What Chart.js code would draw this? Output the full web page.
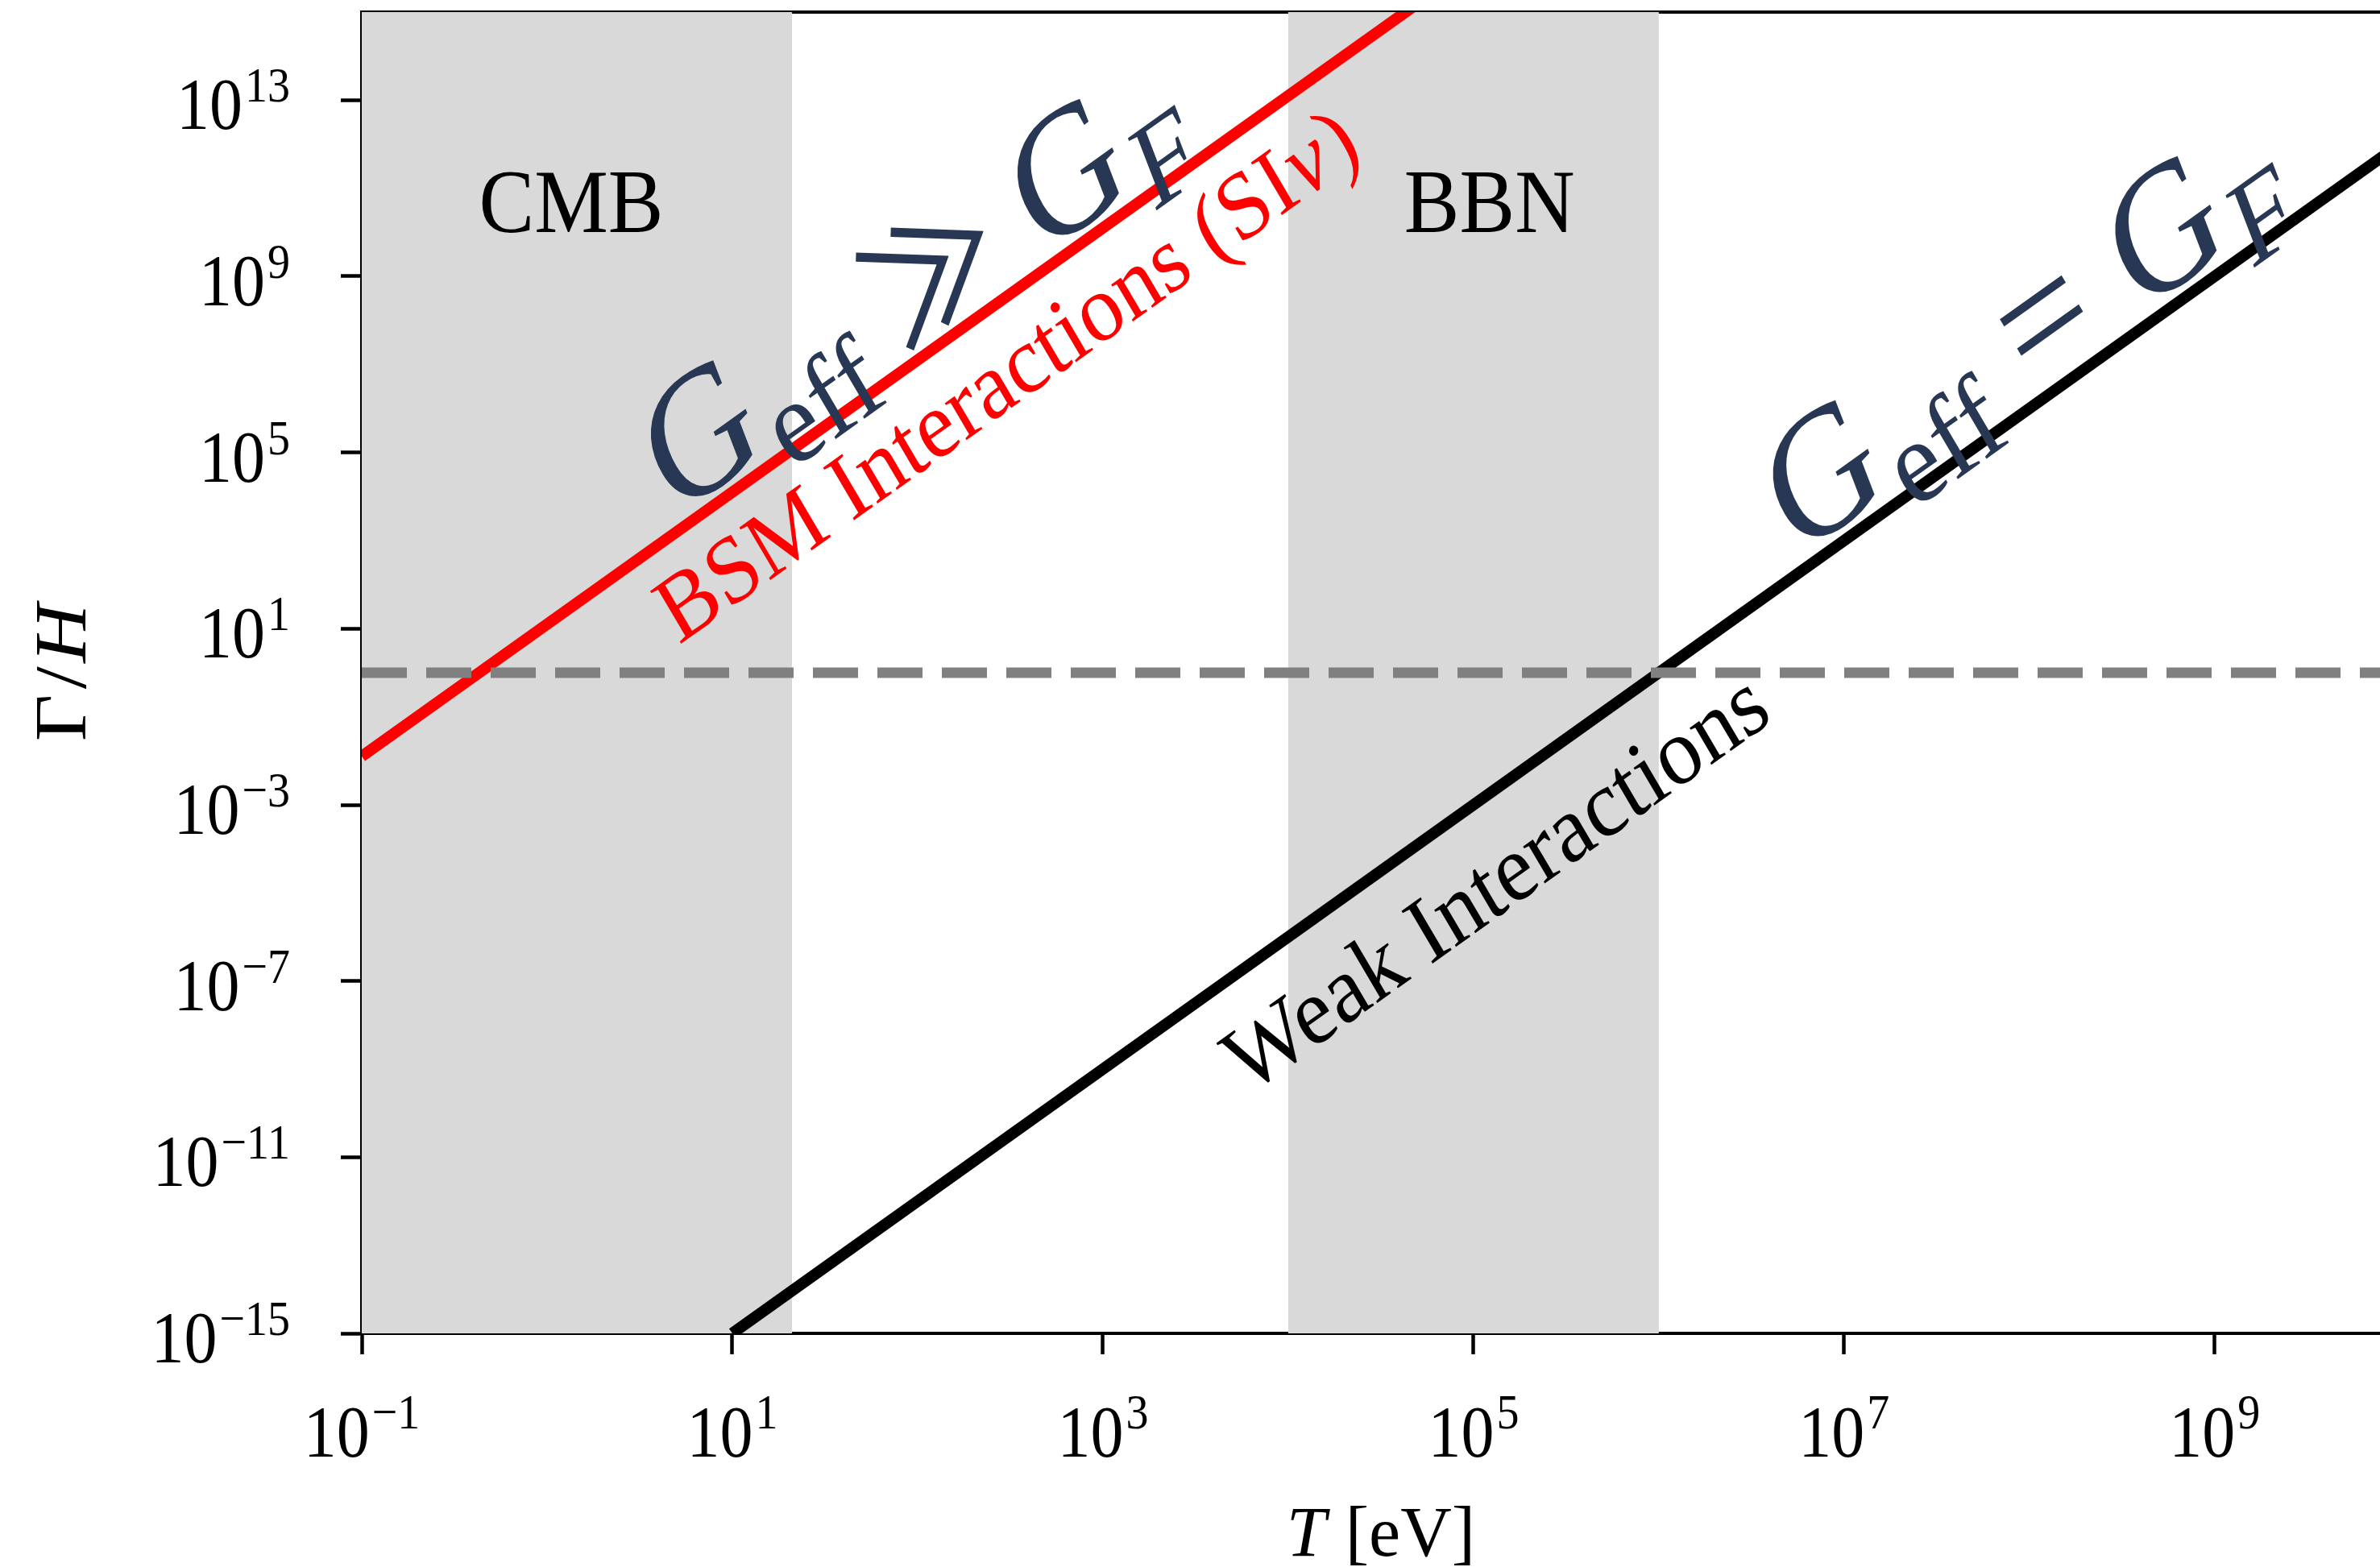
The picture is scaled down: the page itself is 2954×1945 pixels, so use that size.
<!DOCTYPE html>
<html>
<head>
<meta charset="utf-8">
<title>Interaction rate vs Hubble rate</title>
<script src="https://cdn.jsdelivr.net/npm/chart.js@4/dist/chart.umd.min.js"></script>
<style>
  html, body { margin: 0; padding: 0; background: #ffffff; overflow: hidden; }
  #wrap { width: 2954px; height: 1945px; }
</style>
</head>
<body>
<div id="wrap"><canvas id="c" width="2954" height="1945"></canvas></div>
<script>
// ---- axis ranges and ticks ----
const xMin = 0.1, xMax = 7.8e9;          // T [eV]
const yMin = 1e-15, yMax = 1e15;         // Gamma / H
const xTickValues = [1e-1, 1e1, 1e3, 1e5, 1e7, 1e9];
const yTickValues = [1e-15, 1e-11, 1e-7, 1e-3, 1e1, 1e5, 1e9, 1e13];

// ---- curves (straight lines in log-log, end points) ----
const weakT = [10, 1e10];
const weakRate = [1e-15, 1e12];
const bsmT = [0.1, 1e5];
const bsmRate = [1.26e-2, 1.26e16];
const equalityT = [0.1, 1e10];
const equalityRate = [1, 1];

// ---- shaded epochs ----
const bandNames = ['CMB', 'BBN'];
const bandLow = [0.1, 1e4];
const bandHigh = [21, 1e6];
const bandLabelT = [1.35, 1.22e5];
const bandLabelRate = [1e10, 1e10];

// ---- labels set along the curves (centre in data units) ----
const noteNames = ['strong', 'bsm', 'fermi', 'weak'];
const noteT = [90, 300, 8.8e7, 1.31e5];
const noteRate = [7e8, 6.0e6, 5.5e7, 1.85e-5];

const FONT = "'Liberation Serif', 'DejaVu Serif', serif";
const NAVY = '#283854';
const TEXT_SY = 1.1;

function pts(xs, ys) { return xs.map((x, i) => ({ x: x, y: ys[i] })); }

function fontOf(r) {
  return (r.italic ? 'italic ' : '') + r.size + 'px ' + (r.family || FONT);
}

// Draws a row of text runs centred on (cx, cy), rotated by `angle`
// (radians, counter-clockwise) and stretched vertically by sy.
function drawRuns(ctx, runs, cx, cy, angle, sy, color) {
  ctx.save();
  ctx.translate(cx, cy);
  ctx.scale(1, sy);
  ctx.rotate(-Math.atan2(Math.sin(angle), sy * Math.cos(angle)));
  ctx.fillStyle = color;
  ctx.textBaseline = 'alphabetic';
  ctx.textAlign = 'left';
  let total = 0;
  const widths = runs.map(r => {
    ctx.font = fontOf(r);
    const w = ctx.measureText(r.text).width;
    total += (r.gap || 0) + w;
    return w;
  });
  let x = -total / 2;
  const base = runs[0].size * 0.33;
  runs.forEach((r, i) => {
    x += r.gap || 0;
    ctx.font = fontOf(r);
    ctx.fillText(r.text, x, base + (r.shift || 0));
    x += widths[i];
  });
  ctx.restore();
}

function drawStretched(ctx, text, x, y, sy) {
  ctx.save();
  ctx.translate(x, y);
  ctx.scale(1, sy);
  ctx.fillText(text, 0, 0);
  ctx.restore();
}

function expText(v) {
  const e = Math.round(Math.log10(v));
  return (e < 0 ? '\u2212' : '') + Math.abs(e);
}

const bigG = 196, subG = 134;
const symFont = "'Noto Sans CJK JP', 'DejaVu Sans', sans-serif";
const noteRuns = {
  strong: [
    { text: 'G', size: bigG, italic: true },
    { text: 'eff', size: subG, shift: 0.17 * bigG, gap: 6 },
    { text: '\u226B', size: 170, family: symFont, gap: 0.2 * bigG },
    { text: 'G', size: bigG, italic: true, gap: 0.2 * bigG },
    { text: 'F', size: subG, italic: true, shift: 0.17 * bigG, gap: 4 }
  ],
  bsm: [
    { text: 'BSM Interactions (SI', size: 108 },
    { text: '\u03BD', size: 108, italic: true, gap: 2 },
    { text: ')', size: 108, gap: 4 }
  ],
  fermi: [
    { text: 'G', size: bigG, italic: true },
    { text: 'eff', size: subG, shift: 0.17 * bigG, gap: 6 },
    { text: '=', size: bigG, gap: 0.26 * bigG },
    { text: 'G', size: bigG, italic: true, gap: 0.26 * bigG },
    { text: 'F', size: subG, italic: true, shift: 0.17 * bigG, gap: 4 }
  ],
  weak: [
    { text: 'Weak Interactions', size: 108 }
  ]
};
const noteColor = { strong: NAVY, bsm: '#ff0000', fermi: NAVY, weak: '#000000' };
const noteLine = { strong: [bsmT, bsmRate], bsm: [bsmT, bsmRate], fermi: [weakT, weakRate], weak: [weakT, weakRate] };

// Shaded temperature windows, painted beneath the curves.
const bandPlugin = {
  id: 'epochBands',
  beforeDatasetsDraw(chart) {
    const { ctx, chartArea: a, scales: { x } } = chart;
    ctx.save();
    ctx.fillStyle = '#d9d9d9';
    bandLow.forEach((lo, i) => {
      const x0 = Math.max(a.left, x.getPixelForValue(lo));
      const x1 = Math.min(a.right, x.getPixelForValue(bandHigh[i]));
      ctx.fillRect(x0, a.top, x1 - x0, a.bottom - a.top);
    });
    ctx.restore();
  }
};

// Tick labels with exponents, axis titles and the text annotations.
const textPlugin = {
  id: 'texts',
  afterDraw(chart) {
    const { ctx, chartArea: a, scales: { x, y } } = chart;
    ctx.save();
    ctx.fillStyle = '#000';
    ctx.textBaseline = 'alphabetic';
    ctx.textAlign = 'left';
    const mainSize = 82, supSize = 56;

    // x tick labels
    x.ticks.forEach(t => {
      const px = x.getPixelForValue(t.value);
      ctx.font = mainSize + 'px ' + FONT;
      const w1 = ctx.measureText('10').width;
      const ex = expText(t.value);
      ctx.font = supSize + 'px ' + FONT;
      const w2 = ctx.measureText(ex).width;
      const left = px - (w1 + 3 + w2) / 2;
      const base = a.bottom + 153;
      ctx.font = mainSize + 'px ' + FONT;
      drawStretched(ctx, '10', left, base, TEXT_SY);
      ctx.font = supSize + 'px ' + FONT;
      drawStretched(ctx, ex, left + w1 + 3, base - 35, TEXT_SY);
    });

    // y tick labels
    y.ticks.forEach(t => {
      const py = y.getPixelForValue(t.value);
      ctx.font = mainSize + 'px ' + FONT;
      const w1 = ctx.measureText('10').width;
      const ex = expText(t.value);
      ctx.font = supSize + 'px ' + FONT;
      const w2 = ctx.measureText(ex).width;
      const left = a.left - 89 - (w1 + 3 + w2);
      const base = py + 36;
      ctx.font = mainSize + 'px ' + FONT;
      drawStretched(ctx, '10', left, base, TEXT_SY);
      ctx.font = supSize + 'px ' + FONT;
      drawStretched(ctx, ex, left + w1 + 3, base - 34, TEXT_SY);
    });

    // axis titles
    drawRuns(ctx, [
      { text: 'T', size: 88, italic: true },
      { text: '[eV]', size: 88, gap: 24 }
    ], x.getPixelForValue(Math.pow(10, 4.5)), a.bottom + 247, 0, 1.0, '#000');
    drawRuns(ctx, [
      { text: '\u0393', size: 92 },
      { text: '/', size: 92, gap: 6 },
      { text: 'H', size: 92, italic: true, gap: 4 }
    ], 76, (a.top + a.bottom) / 2, Math.PI / 2, TEXT_SY, '#000');

    // epoch names
    bandNames.forEach((name, i) => {
      ctx.font = '103px ' + FONT;
      ctx.fillStyle = '#000';
      const w = ctx.measureText(name).width;
      drawStretched(ctx, name, x.getPixelForValue(bandLabelT[i]) - w / 2, y.getPixelForValue(bandLabelRate[i]), TEXT_SY);
    });

    // labels running along the curves
    noteNames.forEach((n, i) => {
      const [lt, lr] = noteLine[n];
      const x0 = x.getPixelForValue(lt[0]), y0 = y.getPixelForValue(lr[0]);
      const x1 = x.getPixelForValue(lt[1]), y1 = y.getPixelForValue(lr[1]);
      const ang = Math.atan2(y0 - y1, x1 - x0);
      drawRuns(ctx, noteRuns[n], x.getPixelForValue(noteT[i]), y.getPixelForValue(noteRate[i]), ang, TEXT_SY, noteColor[n]);
    });
    ctx.restore();
  }
};

const tickGrid = { display: true, drawOnChartArea: false, drawTicks: true, tickLength: 26, tickWidth: 4.5, tickColor: '#000000' };
const axisBorder = { display: true, color: '#000000', width: 4 };

new Chart(document.getElementById('c'), {
  type: 'scatter',
  data: {
    datasets: [
      { label: '\u0393/H = 1', data: pts(equalityT, equalityRate), showLine: true, borderColor: '#808080',
        borderWidth: 13, borderDash: [56, 24], pointRadius: 0, order: 0, clip: 0 },
      { label: 'BSM interactions', data: pts(bsmT, bsmRate), showLine: true, borderColor: '#ff0000',
        borderWidth: 14, pointRadius: 0, order: 1, clip: 0 },
      { label: 'Weak interactions', data: pts(weakT, weakRate), showLine: true, borderColor: '#000000',
        borderWidth: 14, pointRadius: 0, order: 2, clip: 0 }
    ]
  },
  options: {
    responsive: false,
    animation: false,
    devicePixelRatio: 1,
    events: [],
    layout: { padding: { top: 15, right: 0, bottom: 0, left: 0 } },
    plugins: { legend: { display: false }, tooltip: { enabled: false } },
    scales: {
      x: {
        type: 'logarithmic', position: 'bottom', min: xMin, max: xMax, z: 1,
        afterBuildTicks: s => { s.ticks = xTickValues.map(v => ({ value: v })); },
        afterFit: s => { s.height = 290; },
        ticks: { display: false },
        grid: tickGrid,
        border: axisBorder
      },
      y: {
        type: 'logarithmic', position: 'left', min: yMin, max: yMax, z: 1,
        afterBuildTicks: s => { s.ticks = yTickValues.map(v => ({ value: v })); },
        afterFit: s => { s.width = 449; },
        ticks: { display: false },
        grid: tickGrid,
        border: axisBorder
      },
      top: {
        type: 'linear', position: 'top', min: 0, max: 1, z: 1,
        afterFit: s => { s.height = 0; },
        ticks: { display: false },
        grid: { display: false, drawTicks: false },
        border: axisBorder
      }
    }
  },
  plugins: [bandPlugin, textPlugin]
});
</script>
</body>
</html>
